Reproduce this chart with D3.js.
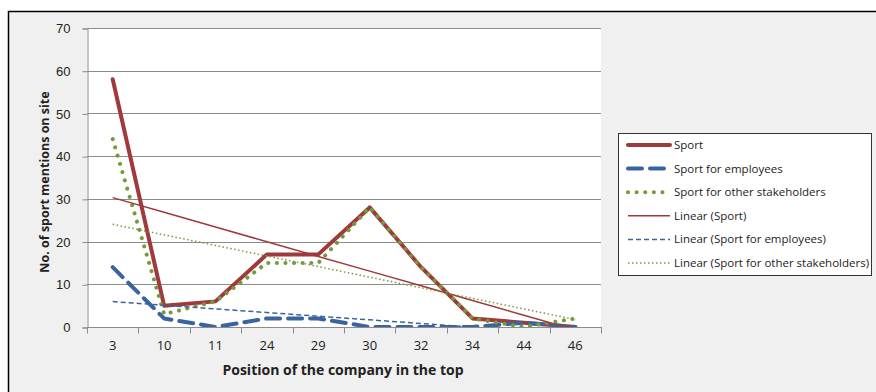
<!DOCTYPE html>
<html>
<head>
<meta charset="utf-8">
<script src="https://cdn.jsdelivr.net/npm/d3@7"></script>
<style>
  body { margin: 0; background: #fff; }
  svg { display: block; font-family: "Open Sans", "Noto Sans", sans-serif; }
</style>
</head>
<body>
<svg id="chart" width="876" height="392"></svg>
<script>
// categories (position of the company in the top)
var positions = ["3", "10", "11", "24", "29", "30", "32", "34", "44", "46"];
var sport = [58, 5, 6, 17, 17, 28, 14, 2, 1, 0];
var sportEmployees = [14, 2, 0, 2, 2, 0, 0, 0, 1, 0];
var sportStakeholders = [44, 3, 6, 15, 15, 28, 14, 2, 0, 2];
var yTicks = [0, 10, 20, 30, 40, 50, 60, 70];

var svg = d3.select("#chart");

// outer chart frame
svg.append("rect")
    .attr("x", 8.5).attr("y", 11.5)
    .attr("width", 880).attr("height", 400)
    .attr("fill", "#f0f0f0")
    .attr("stroke", "#000").attr("stroke-width", 1.5);

var plot = {left: 87, top: 28, right: 601, bottom: 327};

var x = d3.scaleBand()
    .domain(positions)
    .range([plot.left, plot.right]);

var y = d3.scaleLinear()
    .domain([0, 70])
    .range([plot.bottom, plot.top]);

svg.append("rect")
    .attr("x", plot.left).attr("y", plot.top)
    .attr("width", plot.right - plot.left).attr("height", plot.bottom - plot.top)
    .attr("fill", "#fff");

// gridlines
svg.append("g")
    .selectAll("line")
    .data(yTicks.filter((d) => d > 0))
    .enter().append("line")
    .attr("x1", plot.left).attr("x2", plot.right)
    .attr("y1", (d) => Math.round(y(d)) + 0.5)
    .attr("y2", (d) => Math.round(y(d)) + 0.5)
    .attr("stroke", "#8c8c8c").attr("stroke-width", 1);

// y axis
var yAxis = svg.append("g")
    .attr("transform", "translate(" + (plot.left + 0.5) + ",0.5)")
    .call(d3.axisLeft(y).tickValues(yTicks).tickSize(5).tickPadding(12));
yAxis.select(".domain").attr("stroke", "#8c8c8c");
yAxis.selectAll(".tick line").attr("stroke", "#8c8c8c");
yAxis.selectAll("text").attr("font-size", 13).attr("fill", "#222");

// x axis, ticks sit between the categories
var xAxis = svg.append("g")
    .attr("transform", "translate(0," + (plot.bottom + 0.5) + ")");
xAxis.append("line")
    .attr("x1", plot.left).attr("x2", plot.right + 1)
    .attr("stroke", "#8c8c8c");
xAxis.selectAll(".sep")
    .data(positions.concat(["end"]))
    .enter().append("line")
    .attr("class", "sep")
    .attr("x1", (d, i) => Math.round(plot.left + i * x.bandwidth()) + 0.5)
    .attr("x2", (d, i) => Math.round(plot.left + i * x.bandwidth()) + 0.5)
    .attr("y1", 0).attr("y2", 6)
    .attr("stroke", "#8c8c8c");
xAxis.selectAll(".lbl")
    .data(positions)
    .enter().append("text")
    .attr("class", "lbl")
    .attr("x", (d) => x(d) + x.bandwidth() / 2)
    .attr("y", 22)
    .attr("text-anchor", "middle")
    .attr("font-size", 13).attr("fill", "#222")
    .text((d) => d);

// axis titles
svg.append("text")
    .attr("x", 343).attr("y", 375)
    .attr("text-anchor", "middle")
    .attr("font-size", 14).attr("font-weight", "bold").attr("fill", "#222")
    .text("Position of the company in the top");

svg.append("text")
    .attr("transform", "translate(49,182) rotate(-90)")
    .attr("text-anchor", "middle")
    .attr("font-size", 12.5).attr("font-weight", "bold").attr("fill", "#222")
    .text("No. of sport mentions on site");

// linear trend (least squares on category index, like Excel)
function trend(values) {
    var n = values.length;
    var mx = (n + 1) / 2, my = d3.mean(values);
    var sxy = d3.sum(values, (v, i) => (i + 1 - mx) * (v - my));
    var sxx = d3.sum(values, (v, i) => (i + 1 - mx) * (i + 1 - mx));
    var b = sxy / sxx, a = my - b * mx;
    return values.map((v, i) => a + b * (i + 1));
}

svg.append("clipPath").attr("id", "clip")
    .append("rect")
    .attr("x", plot.left).attr("y", plot.top)
    .attr("width", plot.right - plot.left).attr("height", plot.bottom - plot.top);

var line = d3.line()
    .x((d, i) => x(positions[i]) + x.bandwidth() / 2)
    .y((d) => y(d));

var series = [
    {name: "Sport", values: sport, color: "#a0393b", width: 4, dash: null, cap: "round"},
    {name: "Sport for employees", values: sportEmployees, color: "#3a64a0", width: 4, dash: "14,8", cap: "round"},
    {name: "Sport for other stakeholders", values: sportStakeholders, color: "#76993a", width: 4, dash: "0.1,8.5", cap: "round"},
    {name: "Linear (Sport)", values: trend(sport), color: "#a0393b", width: 1.5, dash: null, cap: "butt"},
    {name: "Linear (Sport for employees)", values: trend(sportEmployees), color: "#3a64a0", width: 1.5, dash: "5,3", cap: "butt"},
    {name: "Linear (Sport for other stakeholders)", values: trend(sportStakeholders), color: "#76993a", width: 1.5, dash: "1.5,2.5", cap: "butt"}
];

svg.append("g").attr("clip-path", "url(#clip)")
    .selectAll("path")
    .data(series)
    .enter().append("path")
    .attr("d", (d) => line(d.values))
    .attr("fill", "none")
    .attr("stroke", (d) => d.color)
    .attr("stroke-width", (d) => d.width)
    .attr("stroke-dasharray", (d) => d.dash)
    .attr("stroke-linecap", (d) => d.cap)
    .attr("stroke-linejoin", "round");

// legend
var legend = svg.append("g");
legend.append("rect")
    .attr("x", 618.5).attr("y", 133.5)
    .attr("width", 253).attr("height", 142)
    .attr("fill", "#fff")
    .attr("stroke", "#333").attr("stroke-width", 1);

var item = legend.selectAll(".item")
    .data(series)
    .enter().append("g")
    .attr("class", "item")
    .attr("transform", (d, i) => "translate(0," + (145 + i * 23.6) + ")");
item.append("line")
    .attr("x1", 628).attr("x2", 670)
    .attr("stroke", (d) => d.color)
    .attr("stroke-width", (d) => d.width)
    .attr("stroke-dasharray", (d) => d.dash)
    .attr("stroke-linecap", (d) => d.cap);
item.append("text")
    .attr("x", 674).attr("y", 4)
    .attr("font-size", 11.5).attr("fill", "#222")
    .text((d) => d.name);
</script>
</body>
</html>
